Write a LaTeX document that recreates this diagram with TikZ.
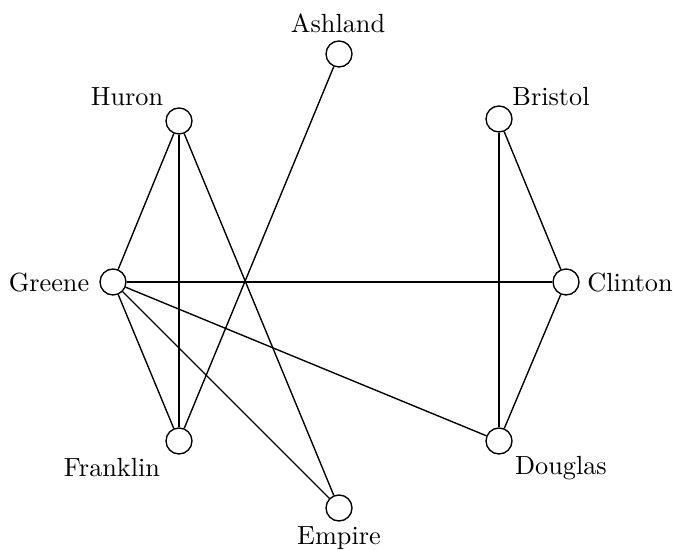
\documentclass[tikz,border=0pt]{standalone}
\begin{document}
\begin{tikzpicture}[x=0.4pt,y=-0.4pt,
  vtx/.style={circle,draw,line width=0.55pt,minimum size=10.4pt,inner sep=0pt},
  lbl/.style={inner sep=0pt,font=\fontsize{10.5}{12}\selectfont},
  edge/.style={line width=0.55pt}]
\useasboundingbox (0,0) rectangle (673,550);
\node[vtx] (A) at (339,54) {};
\node[vtx] (B) at (499,119) {};
\node[vtx] (C) at (566,282) {};
\node[vtx] (D) at (499,441) {};
\node[vtx] (E) at (339,508) {};
\node[vtx] (F) at (179,441) {};
\node[vtx] (G) at (113,282) {};
\node[vtx] (H) at (179,121) {};
\node[lbl] (lA) at (338,23) {Ashland};
\node[lbl] (lB) at (551,97) {Bristol};
\node[lbl] (lC) at (630,283) {Clinton};
\node[lbl] (lD) at (561,468) {Douglas};
\node[lbl] (lE) at (339,538) {Empire};
\node[lbl] (lF) at (112,468) {Franklin};
\node[lbl] (lG) at (49,283) {Greene};
\node[lbl] (lH) at (127,97) {Huron};
\draw[edge] (A) -- (F);
\draw[edge] (H) -- (G);
\draw[edge] (H) -- (F);
\draw[edge] (H) -- (E);
\draw[edge] (G) -- (C);
\draw[edge] (G) -- (F);
\draw[edge] (G) -- (E);
\draw[edge] (G) -- (D);
\draw[edge] (B) -- (C);
\draw[edge] (B) -- (D);
\draw[edge] (C) -- (D);
\end{tikzpicture}
\end{document}
